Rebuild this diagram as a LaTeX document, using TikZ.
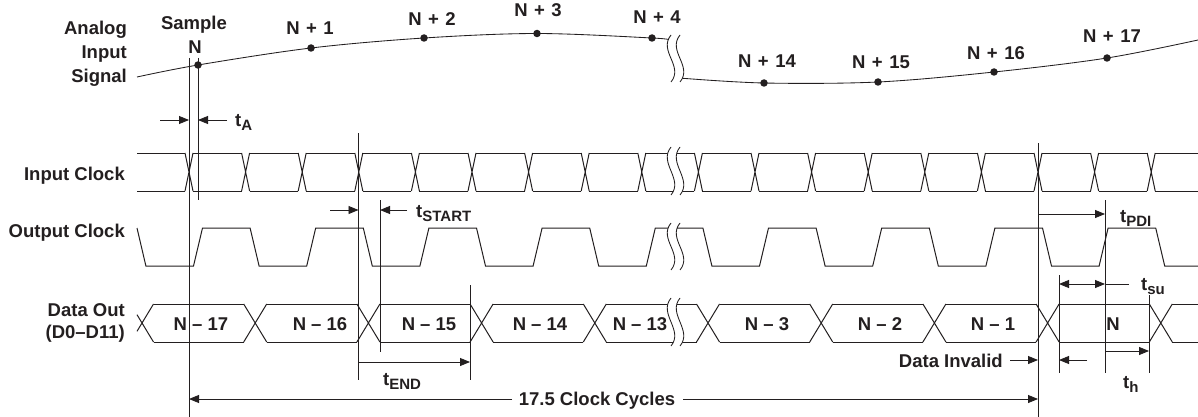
\documentclass[tikz,border=0pt]{standalone}
\usepackage{fontspec}
\setmainfont{Liberation Sans}
\usetikzlibrary{arrows.meta}
\definecolor{ink}{HTML}{231F20}
\newcommand{\tsub}[1]{t\raisebox{-4pt}{\fontsize{15}{16}\selectfont #1}}
\newcommand{\np}[1]{N\hspace{6.5pt}+\hspace{6.5pt}#1}
\begin{document}
\begin{tikzpicture}[x=1pt,y=-1pt,
  lbl/.style={font=\fontsize{18.5}{20}\selectfont\bfseries, text=ink, inner sep=0pt},
  wave/.style={draw=ink, line width=1pt},
  dim/.style={draw=ink, line width=0.85pt},
  arr/.style={dim, -{Triangle[length=10pt,width=8pt]}},
  dbl/.style={dim, {Triangle[length=10pt,width=8pt]}-{Triangle[length=10pt,width=8pt]}},
  dot/.style={circle, fill=ink, inner sep=0pt, minimum size=7.5pt}]
\fill[white] (0,0) rectangle (1198,417);
\useasboundingbox (0,0) rectangle (1198,417);

% ---------- left labels ----------
\node[lbl, anchor=base east] (lAn) at (127,35) {Analog};
\node[lbl, anchor=base east] (lIn) at (127,59) {Input};
\node[lbl, anchor=base east] (lSi) at (127,83) {Signal};
\node[lbl, anchor=base east] (lIC) at (125,180) {Input Clock};
\node[lbl, anchor=base east] (lOC) at (125,237) {Output Clock};
\node[lbl, anchor=base east] (lDO) at (125,316) {Data Out};
\node[lbl, anchor=base east] (lDD) at (125,338) {(D0\textendash D11)};

% ---------- analog input signal ----------
\draw[wave, line width=0.85pt] plot[smooth, tension=0.55] coordinates
  {(137,77) (198,65) (311,48) (424,38) (537,33.5) (652,38) (669,40)};
\draw[wave, line width=0.85pt] plot[smooth, tension=0.55] coordinates
  {(679,78) (764,83) (878,82) (994,72) (1107,58) (1198,40)};
\node[dot] (s0) at (198,65) {};
\node[dot] (s1) at (311,48) {};
\node[dot] (s2) at (424,38) {};
\node[dot] (s3) at (537,33.5) {};
\node[dot] (s4) at (652,38) {};
\node[dot] (s14) at (764,83) {};
\node[dot] (s15) at (878,82) {};
\node[dot] (s16) at (994,72) {};
\node[dot] (s17) at (1107,58) {};
\node[lbl, anchor=base] (tS) at (194,30) {Sample};
\node[lbl, anchor=base] (tN) at (195,54) {N};
\node[lbl, anchor=base] (t1) at (310,35) {\np{1}};
\node[lbl, anchor=base] (t2) at (432,26) {\np{2}};
\node[lbl, anchor=base] (t3) at (538,17) {\np{3}};
\node[lbl, anchor=base] (t4) at (657,24) {\np{4}};
\node[lbl, anchor=base] (t14) at (767,68) {\np{14}};
\node[lbl, anchor=base] (t15) at (881,69) {\np{15}};
\node[lbl, anchor=base] (t16) at (996,60) {\np{16}};
\node[lbl, anchor=base] (t17) at (1112,43) {\np{17}};

% ---------- input clock ----------
\draw[wave] (137,153) -- (185,153) (137,191) -- (185,191);
\foreach \k in {0,...,17} {
  \pgfmathsetmacro\c{189+56.6*\k}
  \draw[wave] (\c-4,153) -- (\c+4,191) (\c-4,191) -- (\c+4,153);
}
\foreach \k in {0,...,16} {
  \pgfmathsetmacro\c{189+56.6*\k}
  \draw[wave] (\c+4,153) -- (\c+52.6,153) (\c+4,191) -- (\c+52.6,191);
}
\draw[wave] (1155.2,153) -- (1198,153) (1155.2,191) -- (1198,191);

% ---------- output clock ----------
\draw[wave] (137,228) -- (145.9,266) -- (193.5,266) -- (202.5,228) -- (250.1,228) -- (259.1,266)
  -- (306.7,266) -- (315.7,228) -- (363.3,228) -- (372.3,266) -- (419.9,266) -- (428.9,228)
  -- (476.5,228) -- (485.5,266) -- (533.1,266) -- (542.1,228) -- (589.7,228) -- (598.7,266)
  -- (646.3,266) -- (655.3,228) -- (702.9,228) -- (711.9,266) -- (759.5,266) -- (768.5,228)
  -- (816.1,228) -- (825.1,266) -- (872.7,266) -- (881.7,228) -- (929.3,228) -- (938.3,266)
  -- (985.9,266) -- (994.9,228) -- (1042.5,228) -- (1051.5,266) -- (1099.1,266) -- (1108.1,228)
  -- (1155.7,228) -- (1164.7,266) -- (1198,266);

% ---------- data out ----------
\draw[wave] (137,331.3) -- (153.5,304) (137,314.7) -- (153.5,342);
\foreach \k in {1,...,9} {
  \pgfmathsetmacro\d{142+113.2*\k}
  \draw[wave] (\d-11.5,304) -- (\d+11.5,342) (\d-11.5,342) -- (\d+11.5,304);
}
\foreach \k in {0,...,8} {
  \pgfmathsetmacro\d{142+113.2*\k}
  \draw[wave] (\d+11.5,304) -- (\d+101.7,304) (\d+11.5,342) -- (\d+101.7,342);
}
\draw[wave] (1172.3,304) -- (1198,304) (1172.3,342) -- (1198,342);
\node[lbl, anchor=base] (d17) at (201,330) {N \textendash\ 17};
\node[lbl, anchor=base] (d16) at (320,330) {N \textendash\ 16};
\node[lbl, anchor=base] (d15) at (429,330) {N \textendash\ 15};
\node[lbl, anchor=base] (d14) at (540,330) {N \textendash\ 14};
\node[lbl, anchor=base] (d13) at (640,330) {N \textendash\ 13};
\node[lbl, anchor=base] (d3) at (767,330) {N \textendash\ 3};
\node[lbl, anchor=base] (d2) at (880,330) {N \textendash\ 2};
\node[lbl, anchor=base] (d1) at (993,330) {N \textendash\ 1};
\node[lbl, anchor=base] (d0) at (1113,330) {N};

% ---------- break marks ----------
\foreach \t/\b in {35/82, 147/195, 223/270, 298/346} {
  \fill[white] (671,\t) .. controls +(-13,16) and +(13,-16) .. (671,\b)
     -- (680,\b) .. controls +(13,-16) and +(-13,16) .. (680,\t) -- cycle;
  \draw[dim] (671,\t) .. controls +(-13,16) and +(13,-16) .. (671,\b);
  \draw[dim] (680,\t) .. controls +(-13,16) and +(13,-16) .. (680,\b);
}

% ---------- reference lines ----------
\draw[dim] (189,58) -- (189,417);
\draw[dim] (198,58) -- (198,200);
\draw[dim] (358.5,133) -- (358.5,380);
\draw[dim] (380,200) -- (380,352);
\draw[dim] (470,285) -- (470,380);
\draw[dim] (1038,143) -- (1038,417);
\draw[dim] (1105,200) -- (1105,373);
\draw[dim] (1059,275) -- (1059,373);
\draw[dim] (1149,295) -- (1149,373);

% ---------- dimension arrows ----------
\draw[arr] (160,120) -- (189,120);
\draw[arr] (227,120) -- (198,120);
\node[lbl, anchor=base west] (tA) at (235,127) {\tsub{A}};

\draw[arr] (330,210) -- (358.5,210);
\draw[arr] (407,210) -- (380,210);
\node[lbl, anchor=base west] (tST) at (416,217) {\tsub{START}};

\draw[arr] (358.5,362) -- (470,362);
\node[lbl, anchor=base west] (tEN) at (383,385) {\tsub{END}};

\draw[arr] (512,399) -- (189,399);
\draw[arr] (683,399) -- (1038,399);
\node[lbl, anchor=base] (cyc) at (597,405) {17.5 Clock Cycles};

\draw[arr] (1038,214) -- (1105,214);
\node[lbl, anchor=base west] (tPD) at (1120,222) {\tsub{PDI}};

\draw[dbl] (1059,284) -- (1105,284);
\draw[dim] (1105,284) -- (1129,284);
\node[lbl, anchor=base west] (tSU) at (1141,290) {\tsub{su}};

\draw[arr] (1105,351) -- (1149,351);
\draw[arr] (1087,360) -- (1059,360);
\node[lbl, anchor=base west] (tH) at (1123,388) {\tsub{h}};

\node[lbl, anchor=base east] (inv) at (1003,367) {Data Invalid};
\draw[arr] (1010,360) -- (1038,360);
\end{tikzpicture}
\end{document}
